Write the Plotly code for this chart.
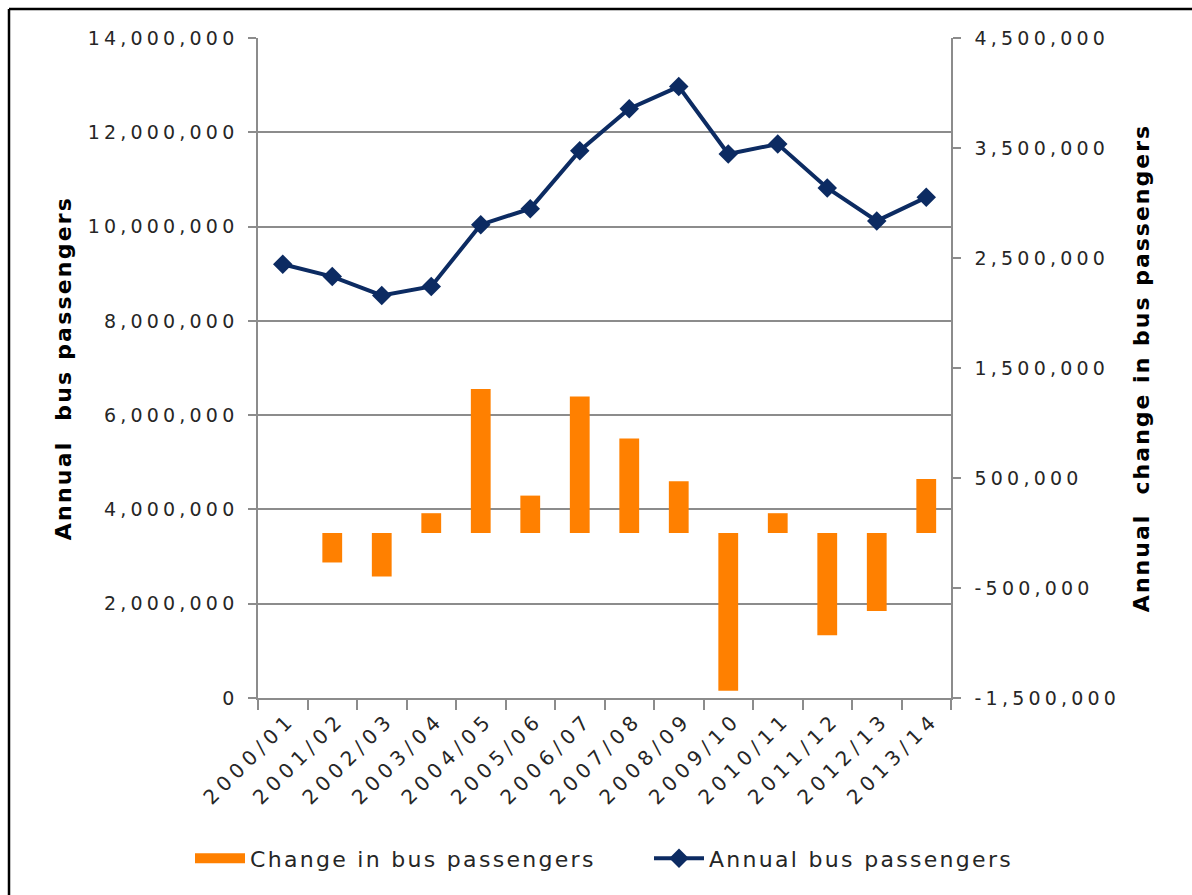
import plotly.graph_objects as go

# Financial years on the category axis
years = ["2000/01", "2001/02", "2002/03", "2003/04", "2004/05", "2005/06", "2006/07",
         "2007/08", "2008/09", "2009/10", "2010/11", "2011/12", "2012/13", "2013/14"]

# Total passengers carried per year (left axis)
annual_passengers = [9200000, 8940000, 8540000, 8730000, 10040000, 10380000, 11610000,
                     12500000, 12970000, 11540000, 11750000, 10820000, 10120000, 10620000]

# Year-on-year change (right axis); no change shown for the first year
change_passengers = [0, -268000, -396000, 180000, 1310000, 340000, 1240000,
                     860000, 470000, -1435000, 180000, -930000, -710000, 490000]

left_ticks = list(range(0, 14000001, 2000000))
right_ticks = list(range(-1500000, 4500001, 1000000))

W, H = 1192, 895
ML, MR, MT, MB = 258, 241, 38, 197
PW, PH = W - ML - MR, H - MT - MB

FONT = "DejaVu Sans"
TXT = "#262626"
GRID = "#8c8c8c"
ORANGE = "#ff8000"
NAVY = "#0c2b62"


def spaced(text, px):
    """Wrap a label so it is drawn with wider letter spacing."""
    return f'<span style="letter-spacing:{px}px">{text}</span>'


TICK_SP = 4.2
x_ticktext = [spaced(y, 5.3) for y in years]
left_ticktext = [spaced(f"{v:,}", TICK_SP) for v in left_ticks]
right_ticktext = [spaced(f"{v:,}", TICK_SP) for v in right_ticks]

fig = go.Figure()

fig.add_trace(go.Bar(
    x=years, y=change_passengers, name="Change in bus passengers", showlegend=False,
    marker=dict(color=ORANGE, line=dict(width=0)), width=0.4, yaxis="y2",
))

# Legend key for the bars, shown as a wide orange swatch
fig.add_trace(go.Scatter(
    x=[None], y=[None], mode="lines", name=spaced("Change in bus passengers", 2.3),
    line=dict(color=ORANGE, width=15), yaxis="y2",
))

fig.add_trace(go.Scatter(
    x=years, y=annual_passengers, name=spaced("Annual bus passengers", 2.3),
    mode="lines+markers",
    line=dict(color=NAVY, width=4), marker=dict(symbol="diamond", size=15, color=NAVY),
    yaxis="y",
))

tick_font = dict(family=FONT, size=19, color=TXT)
title_font = dict(family=FONT, size=22, color="#000")

fig.update_layout(
    width=W, height=H,
    margin=dict(l=ML, r=MR, t=MT, b=MB, autoexpand=False),
    paper_bgcolor="white", plot_bgcolor="white",
    font=dict(family=FONT, color=TXT),
    showlegend=True,
    legend=dict(orientation="h", x=(190 - ML) / PW, xanchor="left", y=-0.243,
                yanchor="middle", font=dict(family=FONT, size=22, color=TXT),
                itemwidth=50, entrywidth=394, traceorder="normal"),
    xaxis=dict(
        type="category", tickangle=-45, tickfont=dict(family=FONT, size=20, color=TXT),
        tickson="boundaries", tickvals=years, ticktext=x_ticktext,
        ticks="outside", ticklen=10, tickcolor=GRID, tickwidth=1.5,
        ticklabelshift=7,
        showline=True, linecolor=GRID, linewidth=1.5, showgrid=False,
        range=[-0.5, 13.5],
    ),
    yaxis=dict(
        range=[0, 14000000], tickvals=left_ticks, ticktext=left_ticktext,
        tickfont=tick_font, ticks="outside", ticklen=8, tickcolor=GRID, tickwidth=1.5,
        showline=True, linecolor=GRID, linewidth=1.5,
        showgrid=True, gridcolor=GRID, gridwidth=1.5, zeroline=False,
        title=dict(text="<b>" + spaced("Annual  bus passengers", 2.2) + "</b>",
                   font=title_font, standoff=10),
        ticklabelstandoff=6,
    ),
    yaxis2=dict(
        range=[-1500000, 4500000], tickvals=right_ticks, ticktext=right_ticktext,
        overlaying="y", side="right",
        tickfont=tick_font, ticks="outside", ticklen=8, tickcolor=GRID, tickwidth=1.5,
        showline=True, linecolor=GRID, linewidth=1.5, showgrid=False, zeroline=False,
        title=dict(text="<b>" + spaced("Annual  change in bus passengers", 2.0) + "</b>",
                   font=title_font, standoff=14),
        ticklabelstandoff=10,
    ),
    bargap=0.6,
)

# Outer frame around the whole chart area
fx0 = (9 - ML) / PW
fy1 = 1 + (MT - 9) / PH
fig.add_shape(type="line", xref="paper", yref="paper", x0=fx0, x1=(W + 5 - ML) / PW,
              y0=fy1, y1=fy1, line=dict(color="black", width=2.5))
fig.add_shape(type="line", xref="paper", yref="paper", x0=fx0, x1=fx0,
              y0=fy1, y1=-(H + 5 - MT - PH) / PH, line=dict(color="black", width=2.5))

fig.write_html("out.html")
